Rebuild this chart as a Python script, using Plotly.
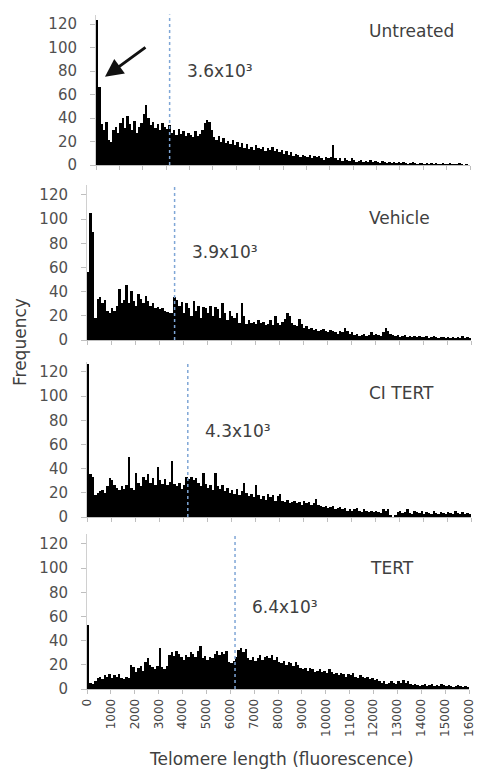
import plotly.graph_objects as go

# the page body has an 8px margin, so the figure is sized to fit the window
OFF = 8
W, H = 482 - OFF, 772 - OFF
BIN = 100
bin_starts = list(range(0, 16000, BIN))

untreated = [
    124, 67, 35, 30, 37, 22, 20, 30, 33, 28,
    36, 40, 32, 42, 35, 30, 38, 28, 33, 36,
    44, 51, 40, 34, 37, 32, 35, 30, 36, 33,
    31, 34, 28, 30, 26, 31, 27, 29, 25, 28,
    26, 24, 29, 25, 27, 30, 36, 39, 37, 30,
    24, 22, 25, 20, 23, 19, 21, 18, 22, 17,
    20, 16, 19, 15, 18, 14, 16, 13, 17, 15,
    14, 16, 12, 15, 13, 16, 12, 14, 11, 13,
    10, 12, 9, 11, 8, 10, 9, 7, 9, 8,
    7, 9, 6, 8, 7, 8, 6, 5, 7, 6,
    7, 17, 6, 5, 6, 4, 6, 5, 4, 6,
    5, 3, 4, 5, 3, 4, 3, 5, 3, 4,
    3, 2, 4, 3, 2, 3, 2, 3, 2, 3,
    2, 3, 2, 1, 2, 3, 2, 1, 2, 2,
    1, 2, 1, 2, 1, 2, 1, 1, 2, 1,
    1, 2, 1, 1, 1, 2, 1, 0, 1, 0,
]

vehicle = [
    56, 105, 89, 18, 34, 35, 30, 33, 24, 22,
    26, 24, 28, 42, 30, 33, 45, 30, 40, 32,
    28, 38, 34, 30, 36, 32, 28, 30, 26, 27,
    25, 26, 24, 23, 22, 22, 35, 33, 28, 31,
    22, 30, 26, 20, 32, 24, 28, 18, 27, 26,
    22, 28, 20, 27, 25, 18, 30, 22, 16, 24,
    20, 18, 22, 14, 30, 20, 13, 16, 14, 15,
    13, 16, 14, 15, 12, 13, 16, 12, 20, 14,
    12, 15, 17, 22, 20, 14, 12, 11, 17, 13,
    10, 11, 9, 10, 8, 9, 7, 8, 9, 7,
    6, 8, 7, 6, 5, 7, 6, 10, 7, 5,
    6, 4, 5, 3, 4, 5, 3, 4, 6, 4,
    5, 4, 3, 6, 10, 7, 5, 4, 3, 4,
    2, 3, 4, 2, 3, 2, 3, 2, 3, 2,
    2, 3, 1, 2, 3, 2, 1, 2, 2, 1,
    2, 1, 2, 1, 2, 1, 3, 1, 2, 1,
]

ci_tert = [
    126, 35, 33, 18, 20, 21, 22, 20, 25, 32,
    30, 26, 24, 22, 25, 23, 26, 49, 24, 22,
    36, 28, 25, 33, 30, 35, 28, 32, 26, 41,
    30, 27, 31, 26, 29, 46, 27, 25, 28, 23,
    26, 33, 31, 33, 30, 32, 28, 25, 36, 27,
    24, 26, 22, 36, 25, 23, 26, 21, 24, 20,
    22, 19, 23, 18, 21, 28, 20, 17, 19, 16,
    26, 18, 15, 17, 14, 19, 16, 18, 13, 17,
    19, 13, 12, 14, 11, 12, 13, 11, 12, 10,
    13, 11, 12, 10, 11, 15, 10, 9, 8, 9,
    7, 8, 9, 6, 7, 8, 6, 7, 5, 6,
    5, 6, 7, 5, 4, 6, 5, 4, 5, 4,
    5, 4, 3, 6, 5, 6, 1, 0, 1, 4,
    5, 3, 4, 6, 3, 2, 5, 4, 3, 5,
    2, 4, 3, 2, 5, 3, 2, 4, 3, 2,
    4, 3, 2, 5, 3, 2, 4, 2, 3, 2,
]

tert = [
    53, 5, 4, 6, 9, 10, 8, 11, 10, 12,
    9, 11, 10, 12, 9, 8, 10, 9, 20, 18,
    14, 17, 19, 15, 22, 25, 20, 18, 16, 19,
    34, 18, 16, 19, 28, 30, 27, 31, 29, 26,
    24, 28, 26, 30, 29, 26, 31, 35, 25, 27,
    24, 26, 25, 29, 31, 28, 30, 29, 31, 22,
    21, 23, 26, 32, 34, 30, 33, 25, 24, 26,
    23, 25, 28, 24, 26, 27, 25, 28, 24, 26,
    22, 21, 23, 20, 22, 21, 19, 22, 20, 17,
    16, 17, 15, 17, 16, 14, 15, 16, 14, 15,
    13, 16, 14, 12, 13, 11, 13, 12, 10, 12,
    11, 13, 10, 9, 11, 10, 9, 10, 8, 9,
    7, 8, 6, 5, 6, 4, 5, 6, 5, 4,
    6, 5, 7, 5, 6, 4, 3, 4, 3, 2,
    3, 4, 2, 3, 4, 2, 3, 2, 4, 3,
    2, 3, 2, 1, 2, 3, 2, 1, 2, 1,
]

panel_names = ["Untreated", "Vehicle", "CI TERT", "TERT"]
mean_labels = ["3.6x10³", "3.9x10³", "4.3x10³", "6.4x10³"]
mean_line_pos = [3150, 3650, 4200, 6200]
series = [untreated, vehicle, ci_tert, tert]

y_ticks = [0, 20, 40, 60, 80, 100, 120]
x_ticks = list(range(0, 16001, 1000))
x_ticktext = [str(v) for v in x_ticks]

# layout geometry in window pixels (left, right, top, bottom)
boxes = [
    (96, 470, 14.6, 165),
    (87, 471, 185.3, 340),
    (87, 471, 362.3, 517),
    (87, 469, 534.3, 689),
]
name_pos = [(367, 31), (367, 218), (367, 393), (368, 568)]
mean_pos = [(185, 71), (190, 252), (203, 431), (250, 607)]

def fx(px):
    return (px - OFF) / W

def fy(py):
    return 1 - (py - OFF) / H

FONT = "DejaVu Sans"
fig = go.Figure()
layout = dict(
    width=W, height=H, margin=dict(l=0, r=0, t=0, b=0, autoexpand=False),
    paper_bgcolor="white", plot_bgcolor="white", showlegend=False,
    bargap=0, font=dict(family=FONT, color="#404040"),
)
shapes, annotations = [], []
for i, (vals, box) in enumerate(zip(series, boxes)):
    n = "" if i == 0 else str(i + 1)
    xa, ya = "x" + n, "y" + n
    fig.add_trace(go.Bar(
        x=[b + BIN / 2 for b in bin_starts], y=vals, width=BIN,
        marker=dict(color="black", line=dict(width=0)),
        xaxis=xa, yaxis=ya, hoverinfo="x+y",
    ))
    l, r, t, b = box
    last = i == 3
    layout["xaxis" + n] = dict(
        domain=[fx(l), fx(r)], range=[0, 16000], anchor=ya, automargin=False,
        showline=True, linecolor="#bfbfbf", linewidth=1,
        ticks="outside", ticklen=4, tickcolor="#bfbfbf",
        tickvals=x_ticks, ticktext=x_ticktext, showticklabels=last, tickangle=-90,
        tickfont=dict(size=12, color="#454545", family=FONT),
        showgrid=False, zeroline=False,
    )
    layout["yaxis" + n] = dict(
        domain=[fy(b), fy(t)], range=[0, 128], anchor=xa, automargin=False,
        showline=True, linecolor="#d0d0d0", linewidth=1,
        ticks="outside", ticklen=5, tickcolor="#bfbfbf",
        tickvals=y_ticks, ticklabelstandoff=10,
        tickfont=dict(size=15, color="#505050", family=FONT),
        showgrid=False, zeroline=False,
    )
    shapes.append(dict(
        type="line", xref=xa, yref=ya + " domain",
        x0=mean_line_pos[i], x1=mean_line_pos[i], y0=0, y1=1,
        line=dict(color="#7fa6d6", width=1.5, dash="dot"),
    ))
    annotations.append(dict(
        text=panel_names[i], xref="paper", yref="paper",
        x=fx(name_pos[i][0]), y=fy(name_pos[i][1]),
        xanchor="left", yanchor="middle", showarrow=False,
        font=dict(size=17, color="#404040", family=FONT),
    ))
    annotations.append(dict(
        text=mean_labels[i], xref="paper", yref="paper",
        x=fx(mean_pos[i][0]), y=fy(mean_pos[i][1]),
        xanchor="left", yanchor="middle", showarrow=False,
        font=dict(size=17, color="#404040", family=FONT),
    ))

# arrow in the first panel
annotations.append(dict(
    x=385, y=75, ax=2180, ay=101, xref="x", yref="y", axref="x", ayref="y",
    text="", showarrow=True, arrowhead=2, arrowsize=1.2, arrowwidth=3,
    arrowcolor="#111111",
))
annotations.append(dict(
    text="Frequency", xref="paper", yref="paper", x=fx(20), y=fy(342),
    xanchor="center", yanchor="middle", textangle=-90, showarrow=False,
    font=dict(size=17, color="#404040", family=FONT),
))
annotations.append(dict(
    text="Telomere length (fluorescence)", xref="paper", yref="paper",
    x=fx(281), y=fy(759), xanchor="center", yanchor="middle", showarrow=False,
    font=dict(size=17, color="#404040", family=FONT),
))
layout["shapes"] = shapes
layout["annotations"] = annotations
fig.update_layout(**layout)
fig.write_html("out.html")
